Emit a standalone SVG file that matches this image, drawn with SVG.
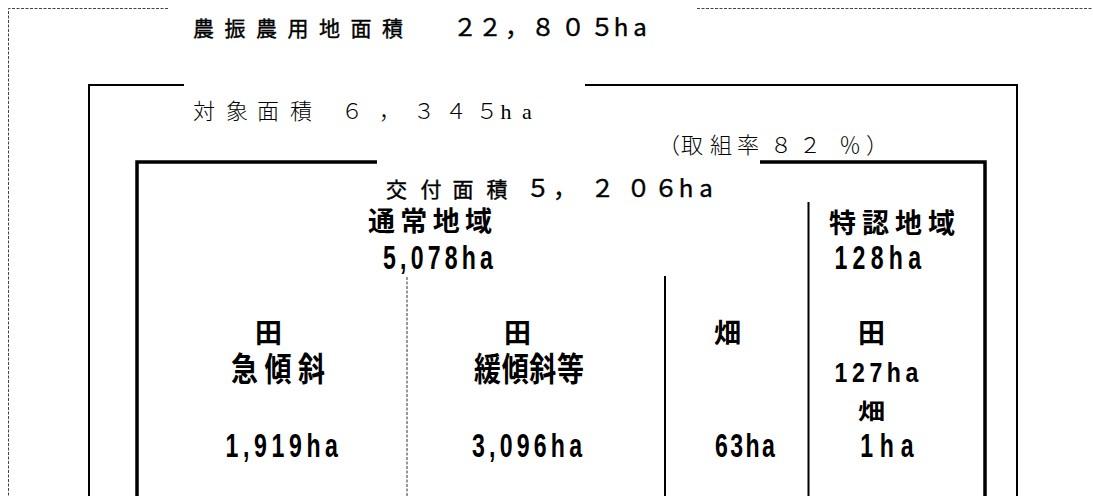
<svg xmlns="http://www.w3.org/2000/svg" width="1093" height="496" viewBox="0 0 1093 496">
<style>
.fd{fill:none;stroke:#444;stroke-width:1;stroke-dasharray:3 1.5}
.fm{fill:none;stroke:#000;stroke-width:2}
.fi{fill:none;stroke:#000;stroke-width:3.5}
.dv{fill:none;stroke:#000;stroke-width:2}
.dvd{fill:none;stroke:#333;stroke-width:1;stroke-dasharray:3 1.5}
.goth{font-family:"Noto Sans CJK JP",sans-serif;font-size:21px;fill:#000;stroke:#000;stroke-width:0.4}
.dg{font-size:24px}
.minc{font-family:"Liberation Serif","Noto Sans CJK JP",serif;font-size:22px;font-weight:300;fill:#000}
.lbl{font-family:"Noto Sans CJK JP",sans-serif;font-size:27px;font-weight:bold;fill:#000}
.num{font-family:"Liberation Sans",sans-serif;font-size:33px;font-weight:bold;fill:#000}
</style>
<rect width="1093" height="496" fill="#fff"/>
<g id="farmland-area">
<path class="fd" d="M168,8.5 H8.5 V496 M697,8.5 H1093"/>
<text class="goth" text-anchor="middle" y="35.5"><tspan x="203.5 235 266.5 298 329.5 361 392.5 420">農振農用地面積 </tspan><tspan class="dg" x="465 490 517 543 573 602 621 640">２２，８０５ha</tspan></text>
</g>
<g id="target-area">
<path class="fm" d="M184,85 H89 V496 M585,85 H1017 V496"/>
<text class="minc" text-anchor="middle" x="204 237 268 301 327 352 390 424 456 487 506 527" y="119">対象面積 ６，３４５ha</text>
<text class="minc" text-anchor="middle" x="669 692 721 748 781 810 850 877" y="153">（取組率８２％）</text>
</g>
<g id="granted-area">
<path class="fi" d="M377,162 H137 V496 M760,162 H985 V496"/>
<text class="goth" text-anchor="middle" y="196.5"><tspan x="396.5 431 463 497 517">交付面積 </tspan><tspan class="dg" x="538 565 602.5 638.5 666 686 706">５，２０６ha</tspan></text>
</g>
<g id="normal-region">
<text class="lbl" x="368" y="231" textLength="124" lengthAdjust="spacing">通常地域</text>
<text class="num" transform="scale(0.7 1)" x="547.1" y="269" textLength="157.1" lengthAdjust="spacing">5,078ha</text>
</g>
<g id="special-region">
<text class="lbl" x="829" y="233" textLength="126" lengthAdjust="spacing">特認地域</text>
<text class="num" transform="scale(0.7 1)" x="1192.1" y="269" textLength="123.6" lengthAdjust="spacing">128ha</text>
</g>
<g id="paddy-steep">
<text class="lbl" x="268.5" y="343" text-anchor="middle">田</text>
<text class="lbl" transform="matrix(1 0 0 1.2 0 -76.2)" x="231" y="381" textLength="94" lengthAdjust="spacing">急傾斜</text>
<text class="num" transform="scale(0.7 1)" x="322.1" y="457" textLength="160.7" lengthAdjust="spacing">1,919ha</text>
</g>
<g id="paddy-gentle">
<text class="lbl" x="517.5" y="343" text-anchor="middle">田</text>
<text class="lbl" transform="matrix(1 0 0 1.2 0 -76.2)" x="474" y="381" textLength="110" lengthAdjust="spacing">緩傾斜等</text>
<text class="num" transform="scale(0.7 1)" x="674.3" y="457" textLength="157.1" lengthAdjust="spacing">3,096ha</text>
</g>
<g id="upland">
<text class="lbl" x="727.5" y="343" text-anchor="middle">畑</text>
<text class="num" transform="scale(0.7 1)" x="1021.4" y="457" textLength="85.7" lengthAdjust="spacing">63ha</text>
</g>
<g id="special-breakdown">
<text class="lbl" x="871.5" y="343" text-anchor="middle">田</text>
<text class="num" transform="matrix(0.7 0 0 0.85 0 57.3)" x="1192.1" y="382" textLength="120" lengthAdjust="spacing">127ha</text>
<text class="lbl" transform="matrix(1 0 0 0.8 0 83.8)" x="871.5" y="419" text-anchor="middle">畑</text>
<text class="num" transform="scale(0.7 1)" x="1229" y="457" textLength="76" lengthAdjust="spacing">1ha</text>
</g>
<g id="connectors">
<line class="dvd" x1="407" y1="277" x2="407" y2="496"/>
<line class="dv" x1="665" y1="276" x2="665" y2="496"/>
<line class="dv" x1="808.5" y1="202" x2="808.5" y2="496"/>
</g>
</svg>
